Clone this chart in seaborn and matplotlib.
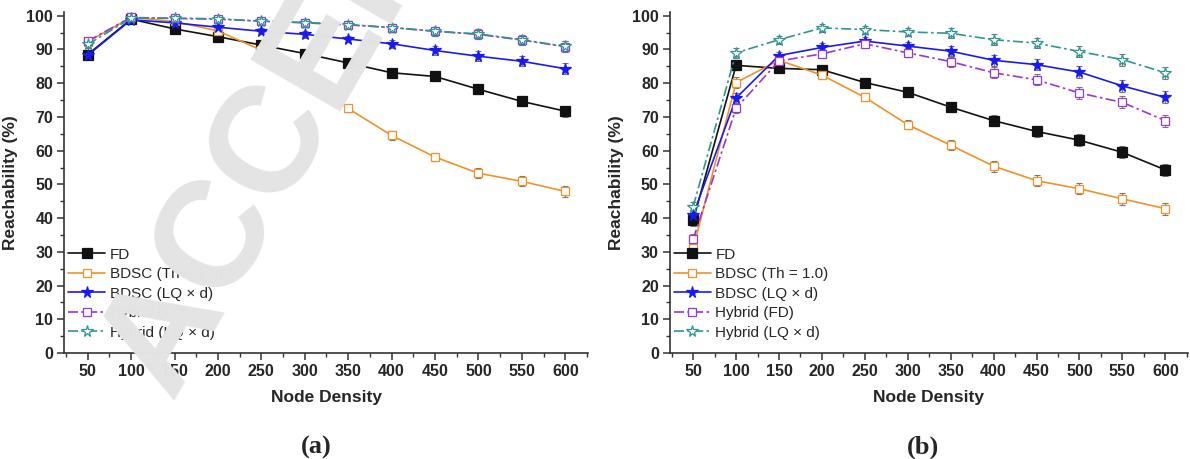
import seaborn as sns
import matplotlib.pyplot as plt
from matplotlib.ticker import MultipleLocator
import pandas as pd

node_density = [50, 100, 150, 200, 250, 300, 350, 400, 450, 500, 550, 600]
series_names = ["FD", "BDSC (Th = 1.0)", "BDSC (LQ × d)", "Hybrid (FD)", "Hybrid (LQ × d)"]

# panel (a)
fd_a = [88.5, 99.0, 96.1, 93.8, 91.3, 88.8, 86.0, 83.1, 82.0, 78.2, 74.6, 71.7]
bdsc_th_a = [92.3, 99.5, 98.3, 95.5, 89.8, 81.7, 72.5, 64.5, 58.1, 53.3, 50.9, 47.9]
bdsc_lq_a = [88.3, 98.8, 97.9, 96.6, 95.4, 94.5, 93.1, 91.7, 89.7, 88.0, 86.5, 84.3]
hybrid_fd_a = [92.5, 99.5, 99.2, 99.0, 98.4, 97.9, 97.3, 96.5, 95.4, 94.5, 92.8, 90.8]
hybrid_lq_a = [91.5, 99.3, 99.3, 99.1, 98.4, 98.0, 97.4, 96.5, 95.4, 94.6, 92.9, 90.9]
err_a = [1.0, 0.8, 0.8, 0.8, 0.9, 1.0, 1.0, 1.2, 1.3, 1.5, 1.5, 1.6]

# panel (b)
fd_b = [39.3, 85.3, 84.4, 84.0, 80.2, 77.3, 72.9, 68.9, 65.7, 63.1, 59.5, 54.3]
bdsc_th_b = [31.0, 80.2, 86.8, 82.4, 75.8, 67.7, 61.6, 55.4, 51.1, 48.7, 45.7, 42.8]
bdsc_lq_b = [41.0, 75.6, 88.2, 90.6, 92.5, 91.0, 89.5, 86.8, 85.5, 83.3, 79.2, 75.8]
hybrid_fd_b = [33.7, 72.6, 86.6, 88.7, 91.7, 89.0, 86.4, 83.1, 81.0, 77.1, 74.3, 68.9]
hybrid_lq_b = [43.4, 89.0, 92.9, 96.4, 95.9, 95.2, 94.8, 92.9, 91.9, 89.4, 87.0, 83.1]
err_b = [1.5, 1.5, 1.2, 1.2, 1.2, 1.3, 1.5, 1.6, 1.6, 1.7, 1.8, 1.8]

colors = ["#111111", "#f0922a", "#1a1aee", "#9a35d6", "#2e9690"]
markers = ["s", "s", "*", "s", "*"]
faces = ["#111111", "white", "#1a1aee", "white", "white"]
sizes = [6.5, 6, 8.5, 6, 8.5]
styles = ["-", "-", "-", (0, (6, 2, 1.5, 2)), (0, (6, 2, 1.5, 2))]

sns.set_style("ticks")
plt.rcParams["font.family"] = ["Liberation Sans", "DejaVu Sans"]

fig = plt.figure(figsize=(11.9, 4.59), dpi=100)
ax_a = fig.add_axes([0.054, 0.231, 0.440, 0.742])
ax_b = fig.add_axes([0.563, 0.231, 0.435, 0.742])


def draw_panel(ax, values, err):
    for name, ys, c, m, fc, ms, ls in zip(series_names, values, colors, markers, faces, sizes, styles):
        df = pd.DataFrame({"x": node_density, "y": ys})
        ax.errorbar(df["x"], df["y"], yerr=err, fmt="none", ecolor="#777777",
                    elinewidth=0.8, capsize=2.5, capthick=0.8, zorder=2)
        sns.lineplot(data=df, x="x", y="y", ax=ax, color=c, linestyle=ls, linewidth=1.2,
                     marker=m, markersize=ms, markerfacecolor=fc, markeredgecolor=c,
                     markeredgewidth=0.9, label=name, clip_on=False, zorder=3)
    ax.set_xlim(23, 626)
    ax.set_ylim(0, 101)
    ax.set_xticks(node_density)
    ax.xaxis.set_minor_locator(MultipleLocator(25))
    ax.set_yticks(range(0, 101, 10))
    ax.yaxis.set_minor_locator(MultipleLocator(5))
    sns.despine(ax=ax)
    for side in ["left", "bottom"]:
        ax.spines[side].set_linewidth(1.2)
        ax.spines[side].set_color("#333333")
    ax.tick_params(which="major", length=5, width=1.1, color="#333333", pad=3)
    ax.tick_params(which="minor", length=3, width=1.0, color="#333333")
    for lab in ax.get_xticklabels() + ax.get_yticklabels():
        lab.set_fontweight("bold")
        lab.set_fontsize(11.5)
    ax.set_xlabel("Node Density", fontsize=12.5, fontweight="bold", labelpad=8)
    ax.set_ylabel("Reachability (%)", fontsize=12.5, fontweight="bold", labelpad=6)
    ax.legend(loc="lower left", bbox_to_anchor=(0.005, 0.035), frameon=False,
              fontsize=11, handlelength=2.4, handletextpad=0.3, labelspacing=0.36,
              borderaxespad=0, borderpad=0.1)


draw_panel(ax_a, [fd_a, bdsc_th_a, bdsc_lq_a, hybrid_fd_a, hybrid_lq_a], err_a)
draw_panel(ax_b, [fd_b, bdsc_th_b, bdsc_lq_b, hybrid_fd_b, hybrid_lq_b], err_b)

fig.text(0.266, 0.026, "(a)", ha="center", va="center", fontsize=19, fontweight="bold",
         family="Liberation Serif")
fig.text(0.776, 0.026, "(b)", ha="center", va="center", fontsize=19, fontweight="bold",
         family="Liberation Serif")

# watermark over panel (a)
fig.text(0.1429, 0.1285, "ACCEPTED", rotation=60, rotation_mode="anchor",
         ha="left", va="baseline", fontsize=109, fontweight="bold",
         color="#e4e4e4", zorder=10)

fig.savefig("out.png", dpi=100)
